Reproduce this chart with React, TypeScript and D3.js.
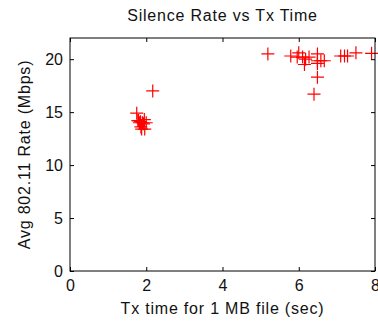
import { useRef, useEffect } from 'react';
import * as d3 from 'd3';

// Tx time (sec) and average 802.11 rate (Mbps)
const txTime = [
  1.75, 1.8, 1.85, 1.9, 1.95, 2.0, 1.78, 1.82, 1.88, 1.96, 1.86, 1.93, 2.17,
  5.19, 5.79, 5.96, 6.0, 6.1, 6.15, 6.18, 6.27, 6.49, 6.49, 6.58, 6.67, 6.49, 6.49, 6.4,
  7.1, 7.2, 7.28, 7.5, 7.91,
];
const avgRate = [
  14.9, 14.2, 14.1, 14.0, 14.3, 14.0, 14.2, 14.0, 13.4, 13.4, 13.6, 13.9, 17.0,
  20.5, 20.3, 20.2, 20.6, 20.2, 19.5, 20.0, 20.2, 20.5, 19.85, 19.85, 19.85, 19.6, 18.3, 16.7,
  20.3, 20.3, 20.3, 20.6, 20.55,
];
const xTicks = [0, 2, 4, 6, 8];
const yTicks = [0, 5, 10, 15, 20];

const W = 378;
const H = 324;
const FONT = '"Liberation Sans", Arial, sans-serif';
const FS = 16;
const LS = '0.8px';

export default function App() {
  const svgRef = useRef<SVGSVGElement>(null);

  useEffect(() => {
    const svg = d3.select(svgRef.current);
    svg.selectAll('*').remove();

    const margin = { top: 38, right: 3, bottom: 53, left: 70 };
    const iw = W - margin.left - margin.right;
    const ih = H - margin.top - margin.bottom;

    const x = d3.scaleLinear().domain([0, 8]).range([0, iw]);
    const y = d3.scaleLinear().domain([0, 22]).range([ih, 0]);

    const g = svg.append('g').attr('transform', `translate(${margin.left},${margin.top})`);

    // points (MATLAB '+' markers)
    const pts = g.append('g');
    txTime.forEach((t, i) => {
      const px = x(t);
      const py = y(avgRate[i]);
      pts.append('path')
        .attr('d', `M${px - 6.5},${py}H${px + 6.5}M${px},${py - 6.5}V${py + 6.5}`)
        .attr('stroke', '#ff0000')
        .attr('stroke-width', 1.2)
        .attr('fill', 'none');
    });

    // box
    g.append('rect')
      .attr('width', iw).attr('height', ih)
      .attr('fill', 'none').attr('stroke', '#000').attr('stroke-width', 1);

    const tk = 4;
    // inward ticks on all four sides
    g.append('g').attr('transform', `translate(0,${ih})`)
      .call(d3.axisBottom(x).tickValues(xTicks).tickSizeInner(-tk).tickSizeOuter(0).tickPadding(9))
      .call(a => a.select('.domain').remove());
    g.append('g')
      .call(d3.axisTop(x).tickValues(xTicks).tickSizeInner(-tk).tickSizeOuter(0).tickFormat(() => ''))
      .call(a => a.select('.domain').remove());
    g.append('g')
      .call(d3.axisLeft(y).tickValues(yTicks).tickSizeInner(-tk).tickSizeOuter(0).tickPadding(7))
      .call(a => a.select('.domain').remove());
    g.append('g').attr('transform', `translate(${iw},0)`)
      .call(d3.axisRight(y).tickValues(yTicks).tickSizeInner(-tk).tickSizeOuter(0).tickFormat(() => ''))
      .call(a => a.select('.domain').remove());

    g.selectAll('.tick text')
      .attr('font-family', FONT)
      .attr('font-size', FS)
      .attr('fill', '#111');
    g.selectAll('.tick line').attr('stroke', '#000');

    const label = (sel: d3.Selection<SVGTextElement, unknown, null, undefined>) =>
      sel.attr('text-anchor', 'middle').attr('dominant-baseline', 'middle')
        .attr('font-family', FONT).attr('font-size', FS)
        .style('letter-spacing', LS).attr('fill', '#111');

    svg.append('text')
      .attr('x', margin.left + iw / 2).attr('y', 17)
      .call(label)
      .text('Silence Rate vs Tx Time');

    svg.append('text')
      .attr('x', margin.left + iw / 2).attr('y', 310)
      .call(label)
      .text('Tx time for 1 MB file (sec)');

    svg.append('text')
      .attr('transform', `translate(26,${margin.top + ih / 2}) rotate(-90)`)
      .call(label)
      .text('Avg 802.11 Rate (Mbps)');
  }, []);

  return (
    <svg
      ref={svgRef}
      width={W}
      height={H}
      style={{ position: 'absolute', left: 0, top: 0, background: '#fff' }}
    />
  );
}
